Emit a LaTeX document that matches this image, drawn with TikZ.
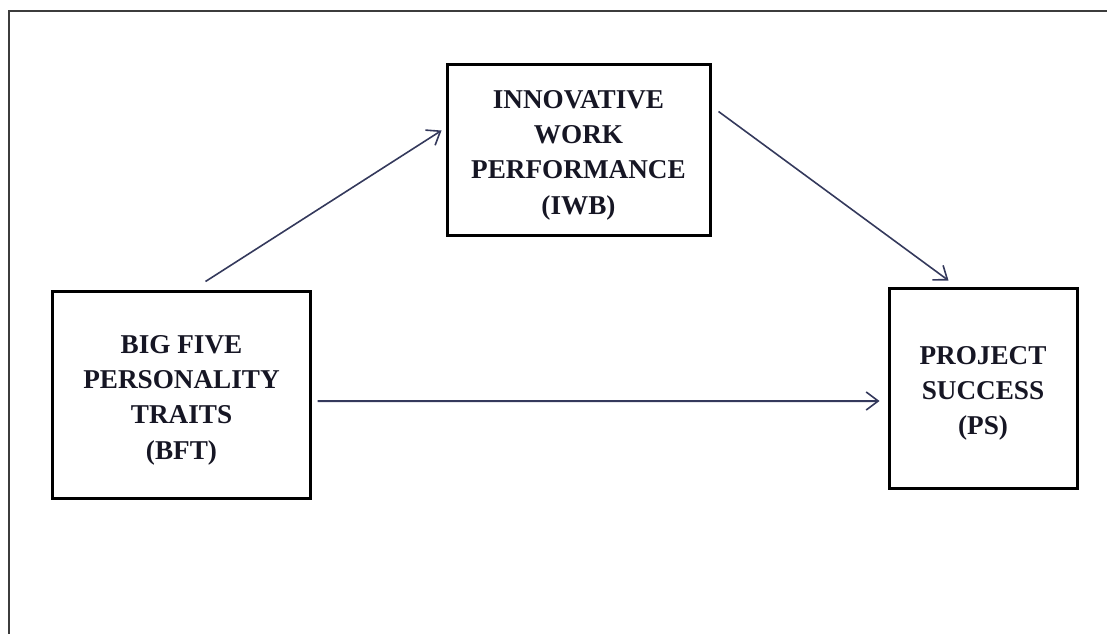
\documentclass[tikz,border=0pt]{standalone}
\usepackage{fontspec}
\setmainfont{Liberation Serif}
\usetikzlibrary{arrows.meta,calc}
\definecolor{arrowcol}{RGB}{52,57,92}
\definecolor{framecol}{RGB}{60,60,60}
\definecolor{textcol}{RGB}{22,22,36}
\tikzset{
  varbox/.style={draw=black, line width=3bp, rectangle, inner sep=0pt},
  vartext/.style={align=center, inner sep=0pt, text=textcol, yshift=-5bp,
    font=\fontsize{27.3}{35.5}\selectfont\bfseries},
  link/.style={draw=arrowcol, line width=1.6bp, -{Straight Barb[length=12bp,width=18bp,line width=1.6bp]}}
}
\begin{document}
\begin{tikzpicture}[x=1bp,y=-1bp]
\useasboundingbox (0,0) rectangle (1107,634);
\draw[framecol, line width=2.4bp] (1107,11) -- (9,11) -- (9,634);
\node[varbox, minimum width=263bp, minimum height=170bp,
  label={[vartext]center:INNOVATIVE\\WORK\\PERFORMANCE\\(IWB)}] (iwb) at (578.5,150) {};
\node[varbox, minimum width=257bp, minimum height=206bp,
  label={[vartext]center:BIG FIVE\\PERSONALITY\\TRAITS\\(BFT)}] (bft) at (181.5,395) {};
\node[varbox, minimum width=188bp, minimum height=199bp,
  label={[vartext]center:PROJECT\\SUCCESS\\(PS)}] (ps) at (983,388.5) {};
\draw[link] ($(bft.north west)+(154,-9)$) -- ($(iwb.north west)+(-4,67)$);
\draw[link] ($(iwb.north east)+(7,48)$) -- ($(ps.north west)+(61,-7)$);
\draw[link, line width=2bp] ($(bft.east)+(6,6)$) -- ($(ps.west)+(-8,12.5)$);
\end{tikzpicture}
\end{document}
